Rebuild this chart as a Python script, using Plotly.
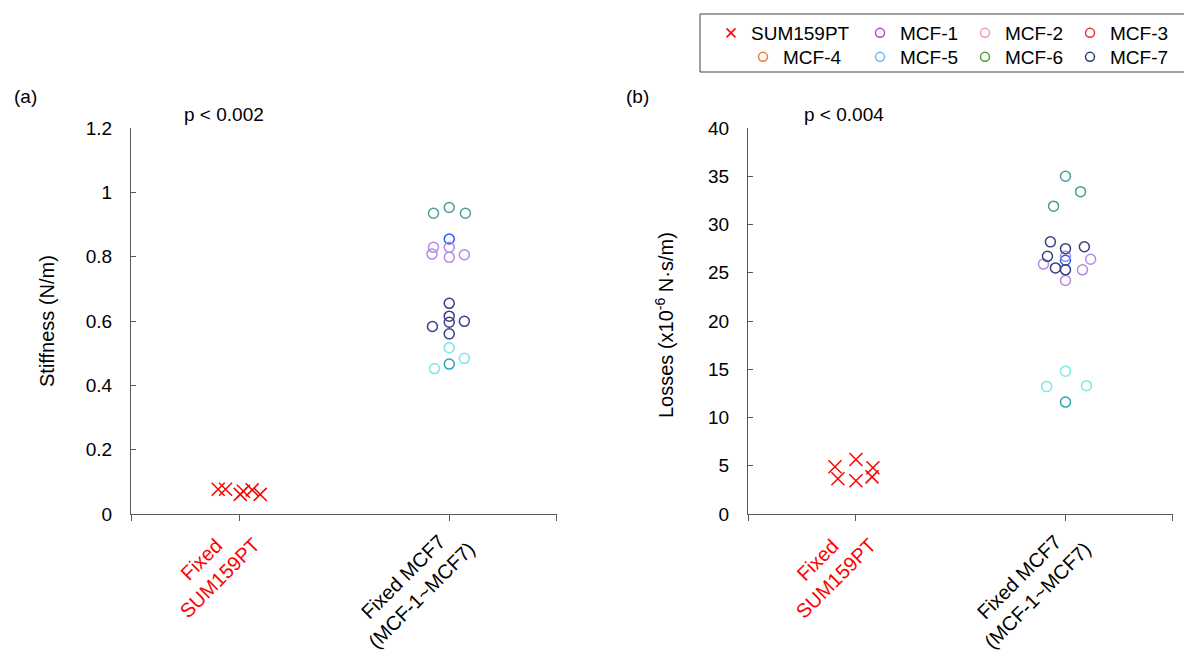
import plotly.graph_objects as go

W, H = 1184, 651
FONT = "Arial, Liberation Sans, sans-serif"

# ---------------- data ----------------
categories = ["Fixed<br>SUM159PT", "Fixed MCF7<br>(MCF-1~MCF7)"]
category_colors = ["red", "black"]
cat_pos = [1, 2]

# SUM159PT (crosses)
sum_stiffness = [0.077, 0.077, 0.061, 0.071, 0.075, 0.061]
sum_stiff_jitter = [-0.10, -0.065, 0.005, 0.02, 0.062, 0.10]
sum_losses = [4.9, 3.65, 5.65, 3.45, 4.8, 3.85]
sum_loss_jitter = [-0.10, -0.086, 0.0, 0.0, 0.081, 0.077]

# MCF7 groups (as coloured in the plot area)
group_names = ["teal", "blue", "lavender", "navy", "cyan_light", "cyan_dark"]
group_colors = ["#4a9d96", "#1f5bff", "#b38be0", "#3a3d8a", "#7fe6e6", "#26a8b8"]

mcf_stiffness = {
    "teal": [0.935, 0.953, 0.935],
    "blue": [0.855],
    "lavender": [0.829, 0.808, 0.829, 0.798, 0.806],
    "navy": [0.655, 0.615, 0.596, 0.583, 0.599, 0.560],
    "cyan_light": [0.517, 0.484, 0.452],
    "cyan_dark": [0.466],
}
mcf_stiff_jitter = {
    "teal": [-0.075, 0.0, 0.077],
    "blue": [0.0],
    "lavender": [-0.075, -0.082, 0.0, 0.0, 0.072],
    "navy": [0.0, 0.0, 0.0, -0.08, 0.072, 0.0],
    "cyan_light": [0.0, 0.072, -0.07],
    "cyan_dark": [0.0],
}
mcf_losses = {
    "teal": [35.0, 33.4, 31.9],
    "blue": [26.3],
    "lavender": [26.7, 26.4, 25.9, 25.3, 24.2],
    "navy": [28.2, 27.5, 27.7, 26.7, 25.5, 25.3],
    "cyan_light": [14.8, 13.2, 13.3],
    "cyan_dark": [11.6],
}
mcf_loss_jitter = {
    "teal": [0.0, 0.072, -0.057],
    "blue": [0.0],
    "lavender": [0.0, 0.12, -0.105, 0.081, 0.0],
    "navy": [-0.072, 0.0, 0.09, -0.086, -0.048, 0.0],
    "cyan_light": [0.0, -0.09, 0.1],
    "cyan_dark": [0.0],
}

# legend entries
legend_names = ["SUM159PT", "MCF-1", "MCF-2", "MCF-3", "MCF-4", "MCF-5", "MCF-6", "MCF-7"]
legend_colors = ["#ff0000", "#a64fd0", "#f29ac2", "#e8303a", "#f07a2a", "#6cb4ee", "#4f9a3a", "#2a3a78"]

# ---------------- figure ----------------
fig = go.Figure()

def add_panel(xa, ya, sum_vals, sum_jit, mcf_vals, mcf_jit):
    fig.add_trace(go.Scatter(
        x=[cat_pos[0] + j for j in sum_jit], y=sum_vals, xaxis=xa, yaxis=ya,
        mode="markers", showlegend=False, hoverinfo="y",
        marker=dict(symbol="x-thin-open", size=13, color="red",
                    line=dict(color="red", width=1.5))))
    for g, c in zip(group_names, group_colors):
        fig.add_trace(go.Scatter(
            x=[cat_pos[1] + j for j in mcf_jit[g]], y=mcf_vals[g], xaxis=xa, yaxis=ya,
            mode="markers", showlegend=False, hoverinfo="y",
            marker=dict(symbol="circle-open", size=10, color=c,
                        line=dict(color=c, width=1.5))))

add_panel("x", "y", sum_stiffness, sum_stiff_jitter, mcf_stiffness, mcf_stiff_jitter)
add_panel("x2", "y2", sum_losses, sum_loss_jitter, mcf_losses, mcf_loss_jitter)

# legend-only traces, split across several legends to mimic the 4x2 grid
legend_slot = {"SUM159PT": "legend", "MCF-4": "legend2",
               "MCF-1": "legend3", "MCF-2": "legend3", "MCF-3": "legend3",
               "MCF-5": "legend4", "MCF-6": "legend4", "MCF-7": "legend4"}
for name, col in zip(legend_names, legend_colors):
    sym = "x-thin-open" if name == "SUM159PT" else "circle-open"
    fig.add_trace(go.Scatter(
        x=[None], y=[None], mode="markers", name=name, legend=legend_slot[name],
        marker=dict(symbol=sym, size=9, color=col,
                    line=dict(color=col, width=1.5))))

def px_x(p):
    return p / W

def px_y(p):
    return 1 - p / H

leg_common = dict(orientation="h", xanchor="left", yanchor="middle",
                  bgcolor="rgba(0,0,0,0)", borderwidth=0,
                  font=dict(family=FONT, size=19, color="black"),
                  itemclick=False, itemdoubleclick=False)
row1, row2 = 33, 57
fig.update_layout(
    legend=dict(x=px_x(711), y=px_y(row1), **leg_common),
    legend2=dict(x=px_x(743), y=px_y(row2), **leg_common),
    legend3=dict(x=px_x(860), y=px_y(row1), entrywidth=60, **leg_common),
    legend4=dict(x=px_x(860), y=px_y(row2), entrywidth=60, **leg_common),
)

ydom = [px_y(514), px_y(128)]
axis_common = dict(showgrid=False, zeroline=False, showline=True, automargin=False,
                   linecolor="#595959", linewidth=1,
                   tickfont=dict(family=FONT, size=19, color="black"))
xr = [0.485, 2.513]
xticks = [0.4851, 1, 2, 2.5129]
fig.update_layout(
    xaxis=dict(domain=[px_x(131), px_x(557)], range=xr, tickvals=xticks,
               showticklabels=False, ticks="outside", ticklen=6,
               tickcolor="#595959", anchor="y", **axis_common),
    xaxis2=dict(domain=[px_x(748), px_x(1173)], range=xr, tickvals=xticks,
                showticklabels=False, ticks="outside", ticklen=6,
                tickcolor="#595959", anchor="y2", **axis_common),
    yaxis=dict(domain=ydom, range=[0, 1.2], dtick=0.2, tick0=0, ticks="inside",
               ticklen=5, tickcolor="#595959", anchor="x", ticklabelstandoff=14,
               **axis_common),
    yaxis2=dict(domain=ydom, range=[0, 40], dtick=5, tick0=0, ticks="inside",
                ticklen=5, tickcolor="#595959", anchor="x2", ticklabelstandoff=14,
                **axis_common),
)

annots = []
txt_font = dict(family=FONT, size=19, color="black")
# category labels
for xa in ["x", "x2"]:
    for pos, lab, col, shift, yc in zip(cat_pos, categories, category_colors,
                                         [-29, -37], [569, 586]):
        annots.append(dict(x=pos, xref=xa, y=px_y(yc), yref="paper", text=lab,
                           showarrow=False, textangle=-45, xshift=shift,
                           xanchor="center", yanchor="middle", align="center",
                           font=dict(family=FONT, size=20, color=col)))
# panel letters and p-values
for t, x, y in [("(a)", 25, 96), ("p < 0.002", 224, 114),
                ("(b)", 637, 96), ("p < 0.004", 844, 114)]:
    annots.append(dict(x=px_x(x), y=px_y(y), xref="paper", yref="paper", text=t,
                       showarrow=False, xanchor="center", yanchor="middle",
                       font=txt_font))
# axis titles
annots.append(dict(x=px_x(47), y=px_y(321), xref="paper", yref="paper",
                   text="Stiffness (N/m)", showarrow=False, textangle=-90,
                   xanchor="center", yanchor="middle",
                   font=dict(family=FONT, size=20, color="black")))
annots.append(dict(x=px_x(664), y=px_y(325), xref="paper", yref="paper",
                   text="Losses (x10<sup>-6</sup> N·s/m)", showarrow=False, textangle=-90,
                   xanchor="center", yanchor="middle",
                   font=dict(family=FONT, size=20, color="black")))

fig.update_layout(
    annotations=annots,
    shapes=[dict(type="rect", xref="paper", yref="paper",
                 x0=px_x(700), x1=px_x(1190), y0=px_y(72), y1=px_y(14),
                 line=dict(color="#404040", width=1))],
    width=W, height=H, margin=dict(l=0, r=0, t=0, b=0, autoexpand=False),
    paper_bgcolor="white", plot_bgcolor="white",
    font=dict(family=FONT, size=19, color="black"),
)

fig.write_html("out.html", config={"displayModeBar": False},
               post_script="document.body.style.margin='0';document.body.style.padding='0';")
